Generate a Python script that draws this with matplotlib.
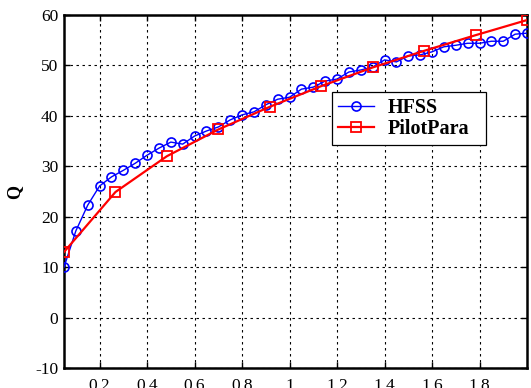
import numpy as np
import matplotlib
matplotlib.use("Agg")
import matplotlib.pyplot as plt

# HFSS data (x step 0.05)
hfss_x = [0.05, 0.10, 0.15, 0.20, 0.25, 0.30, 0.35, 0.40, 0.45, 0.50,
          0.55, 0.60, 0.65, 0.70, 0.75, 0.80, 0.85, 0.90, 0.95, 1.00,
          1.05, 1.10, 1.15, 1.20, 1.25, 1.30, 1.35, 1.40, 1.45, 1.50,
          1.55, 1.60, 1.65, 1.70, 1.75, 1.80, 1.85, 1.90, 1.95, 2.00]
hfss_q = [10.0, 17.2, 22.3, 26.1, 27.9, 29.2, 30.6, 32.2, 33.6, 34.8,
          34.4, 36.0, 37.0, 37.8, 39.2, 40.2, 40.8, 42.2, 43.3, 43.7,
          45.3, 45.7, 46.9, 47.3, 48.7, 49.1, 49.7, 51.1, 50.7, 51.9,
          52.1, 52.7, 53.7, 54.0, 54.4, 54.4, 54.8, 54.8, 56.2, 56.4]

# PilotPara data
pilot_x = [0.05, 0.2667, 0.4833, 0.70, 0.9167, 1.1333, 1.35, 1.5667, 1.7833, 2.00]
pilot_q = [13.0, 24.9, 32.0, 37.3, 41.8, 45.9, 49.6, 52.9, 56.0, 59.0]

xticks = [0.2, 0.4, 0.6, 0.8, 1.0, 1.2, 1.4, 1.6, 1.8]
xticklabels = ["0.2", "0.4", "0.6", "0.8", "1", "1.2", "1.4", "1.6", "1.8"]
yticks = [-10, 0, 10, 20, 30, 40, 50, 60]

plt.rcParams['font.family'] = ['Liberation Serif', 'DejaVu Serif']
plt.rcParams['axes.unicode_minus'] = False

fig = plt.figure(figsize=(5.31, 3.88), dpi=100)
ax = fig.add_axes([0.1205, 0.0515, 0.8720, 0.9098])

ax.plot(hfss_x, hfss_q, color='#0000ff', lw=1.0, marker='o', ms=6.5,
        mfc='none', mec='#0000ff', mew=1.2, label='HFSS', zorder=3)
ax.plot(pilot_x, pilot_q, color='#ff0000', lw=1.6, marker='s', ms=7,
        mfc='none', mec='#ff0000', mew=1.3, label='PilotPara', zorder=4)

ax.set_xlim(0.05, 2.0)
ax.set_ylim(-10, 60)
ax.set_xticks(xticks)
ax.set_xticklabels(xticklabels)
ax.set_yticks(yticks)
ax.tick_params(direction='in', length=4, width=1.0, top=True, right=True,
               labelsize=12.5, pad=4)
ax.tick_params(axis='x', pad=7)
ax.grid(True, color='black', linestyle=(0, (2.2, 3.2)), linewidth=0.8)
for s in ax.spines.values():
    s.set_linewidth(1.8)

ax.set_ylabel('Q', fontsize=13, fontweight='bold', labelpad=9)

leg = ax.legend(loc='upper left', bbox_to_anchor=(0.579, 0.634, 0.333, 0.149),
                mode='expand',
                prop={'weight': 'bold', 'size': 14.5}, frameon=True,
                fancybox=False, edgecolor='black', framealpha=1,
                borderpad=0.3, handlelength=1.8, labelspacing=0.05,
                handletextpad=0.65, borderaxespad=0, numpoints=1)
leg.get_frame().set_linewidth(0.9)

fig.savefig('out.png', dpi=100)
